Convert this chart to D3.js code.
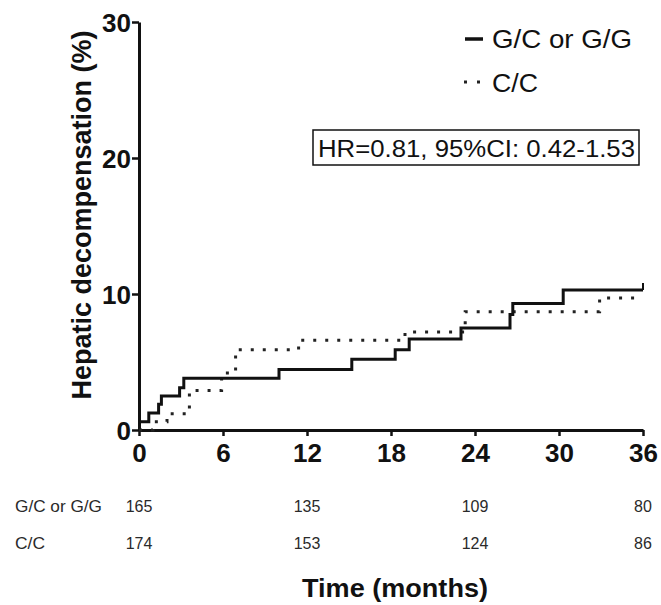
<!DOCTYPE html>
<html>
<head>
<meta charset="utf-8">
<script src="https://cdn.jsdelivr.net/npm/d3@7"></script>
<style>
  html, body { margin: 0; padding: 0; background: #ffffff; }
  svg { display: block; font-family: "Liberation Sans", Arial, sans-serif; }
</style>
</head>
<body>
<svg id="chart" width="661" height="605"></svg>
<script>
// ---- Data ----
const seriesNames = ["G/C or G/G", "C/C"];
// Kaplan-Meier step points: time (months) and cumulative incidence (%)
const gcTimes  = [0, 0.7, 1.4, 1.6, 2.9, 3.2, 10.0, 15.2, 18.3, 19.3, 23.0, 26.5, 26.7, 30.3, 36];
const gcValues = [0.6, 1.25, 1.9, 2.5, 3.1, 3.8, 4.45, 5.2, 5.9, 6.7, 7.5, 8.5, 9.3, 10.3, 10.3];
const ccTimes  = [0, 1.0, 2.0, 3.6, 5.9, 6.9, 11.4, 19.0, 23.3, 32.9, 36];
const ccValues = [0, 0.6, 1.2, 2.9, 4.2, 5.9, 6.6, 7.2, 8.7, 9.7, 9.7];
const xTicks = [0, 6, 12, 18, 24, 30, 36];
const yTicks = [0, 10, 20, 30];
const riskTimes = [0, 12, 24, 36];
const riskGC = [165, 135, 109, 80];
const riskCC = [174, 153, 124, 86];
const hrText = "HR=0.81, 95%CI: 0.42-1.53";
const yTitle = "Hepatic decompensation (%)";
const xTitle = "Time (months)";

// ---- Layout ----
const svg = d3.select("#chart");
const x = d3.scaleLinear().domain([0, 36]).range([139, 643]);
const y = d3.scaleLinear().domain([0, 30]).range([430, 22]);
const ink = "#111";

// Axes
const yAxis = d3.axisLeft(y).tickValues(yTicks).tickSize(7).tickSizeOuter(0).tickPadding(3);
const xAxis = d3.axisBottom(x).tickValues(xTicks).tickSize(6).tickSizeOuter(0).tickPadding(3);

const gy = svg.append("g").attr("transform", `translate(${x(0)},0)`).call(yAxis);
const gx = svg.append("g").attr("transform", `translate(0,${y(0)})`).call(xAxis);

[gx, gy].forEach(g => {
  g.select(".domain").attr("stroke", ink).attr("stroke-width", 3);
  g.selectAll(".tick line").attr("stroke", ink).attr("stroke-width", 2.5);
  g.selectAll(".tick text")
    .attr("fill", ink)
    .style("font-size", "26px")
    .style("font-weight", "bold")
    .style("font-family", "'Liberation Sans', Arial, sans-serif");
});
gx.selectAll(".tick text").attr("y", 32).attr("dy", 0);
gy.selectAll(".tick text").attr("x", -8).attr("dy", "0.36em");

// Lines
const line = d3.line().x(d => x(d[0])).y(d => y(d[1])).curve(d3.curveStepAfter);
const gcData = gcTimes.map((t, i) => [t, gcValues[i]]);
const ccData = ccTimes.map((t, i) => [t, ccValues[i]]);

svg.append("path").datum(ccData)
  .attr("d", line)
  .attr("fill", "none")
  .attr("stroke", "#222")
  .attr("stroke-width", 3)
  .attr("stroke-dasharray", "3,9");

svg.append("path").datum(gcData)
  .attr("d", line)
  .attr("fill", "none")
  .attr("stroke", ink)
  .attr("stroke-width", 3);

// censor tick at end of solid curve
const last = gcData[gcData.length - 1];
svg.append("line")
  .attr("x1", x(last[0])).attr("x2", x(last[0]))
  .attr("y1", y(last[1])).attr("y2", y(last[1]) - 7)
  .attr("stroke", ink).attr("stroke-width", 2);

// Legend
svg.append("line").attr("x1", 465).attr("x2", 483).attr("y1", 39).attr("y2", 39)
  .attr("stroke", ink).attr("stroke-width", 3.5);
svg.append("line").attr("x1", 464).attr("x2", 481).attr("y1", 82).attr("y2", 82)
  .attr("stroke", "#222").attr("stroke-width", 3).attr("stroke-dasharray", "3,10");
svg.append("text").attr("x", 492).attr("y", 48).text(seriesNames[0])
  .attr("fill", ink).style("font-size", "25px")
  .attr("textLength", 140).attr("lengthAdjust", "spacingAndGlyphs");
svg.append("text").attr("x", 492).attr("y", 92).text(seriesNames[1])
  .attr("fill", ink).style("font-size", "25px")
  .attr("textLength", 46).attr("lengthAdjust", "spacingAndGlyphs");

// HR box
svg.append("rect").attr("x", 313).attr("y", 130).attr("width", 326).attr("height", 35)
  .attr("fill", "none").attr("stroke", ink).attr("stroke-width", 1.5);
svg.append("text").attr("x", 318).attr("y", 157).text(hrText)
  .attr("fill", ink).style("font-size", "23px")
  .attr("textLength", 317).attr("lengthAdjust", "spacingAndGlyphs");

// Y title
svg.append("text")
  .attr("transform", "translate(91,215) rotate(-90)")
  .attr("text-anchor", "middle")
  .attr("fill", ink)
  .style("font-size", "27px").style("font-weight", "bold")
  .text(yTitle);

// Risk table
const riskRows = [
  { name: seriesNames[0], vals: riskGC, base: 512 },
  { name: seriesNames[1], vals: riskCC, base: 549 }
];
riskRows.forEach(r => {
  svg.append("text").attr("x", 15).attr("y", r.base).text(r.name)
    .attr("fill", "#2a2a2a").style("font-size", "16px")
    .attr("textLength", r.name.length > 3 ? 87 : 30).attr("lengthAdjust", "spacingAndGlyphs");
  svg.selectAll(null).data(riskTimes).enter().append("text")
    .attr("x", d => x(d)).attr("y", r.base)
    .attr("text-anchor", "middle")
    .attr("fill", "#2a2a2a").style("font-size", "16px")
    .text((d, i) => r.vals[i]);
});

// X title
svg.append("text").attr("x", 395).attr("y", 597).attr("text-anchor", "middle")
  .attr("fill", ink).style("font-size", "26px").style("font-weight", "bold")
  .attr("textLength", 186).attr("lengthAdjust", "spacingAndGlyphs")
  .text(xTitle);
</script>
</body>
</html>
